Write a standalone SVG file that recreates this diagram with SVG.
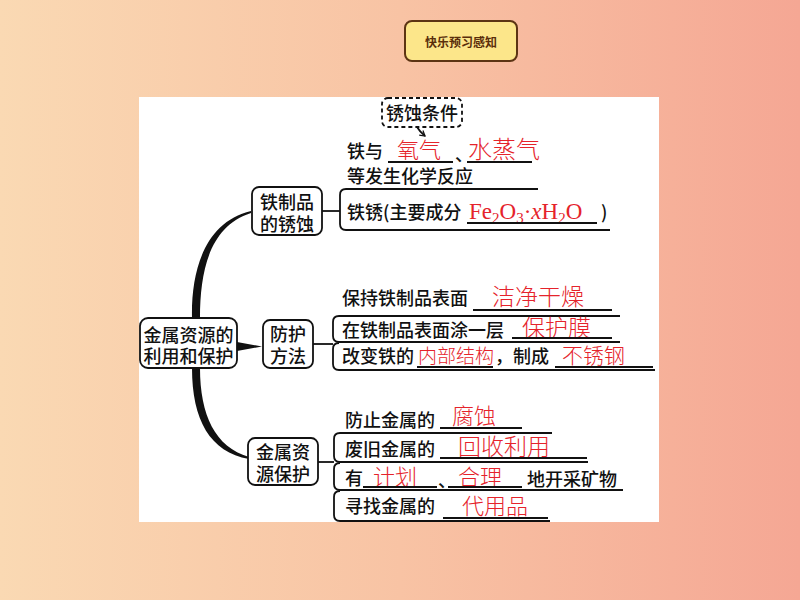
<svg xmlns="http://www.w3.org/2000/svg" width="800" height="600" viewBox="0 0 800 600">
<defs>
<linearGradient id="bg" x1="0" y1="0" x2="1" y2="0">
<stop offset="0" stop-color="#FAD9B3"/>
<stop offset="0.5" stop-color="#F8C3A4"/>
<stop offset="1" stop-color="#F5A794"/>
</linearGradient>
<marker id="ah" markerWidth="8" markerHeight="8" refX="6" refY="4" orient="auto" markerUnits="userSpaceOnUse">
<path d="M1,1 L6,4 L1,7" fill="none" stroke="#111" stroke-width="1.2"/>
</marker>
<style>
.k{font-family:"Noto Sans CJK SC","Noto Sans",sans-serif;font-size:18px;fill:#111;font-weight:500}
.r{font-family:"Noto Sans CJK SC","Noto Sans",sans-serif;fill:#E5232B;font-weight:300}
.f{font-family:"Liberation Serif",serif;fill:#E5232B}
.box{fill:#fff;stroke:#111;stroke-width:1.8}
.br{fill:none;stroke:#111;stroke-width:1.8}
.ul{fill:none;stroke:#111;stroke-width:2.2}
.c{fill:none;stroke:#111;stroke-width:1.8}
.mid{text-anchor:middle}
</style>
</defs>
<rect width="800" height="600" fill="url(#bg)"/>
<g id="title">
<rect x="405" y="21" width="112" height="40" rx="7" fill="#FCE68A" stroke="#5C3413" stroke-width="2"/>
<text x="461" y="47" text-anchor="middle" font-family="Noto Sans CJK SC, sans-serif" font-size="12" font-weight="700" fill="#5A2E0A">快乐预习感知</text>
</g>
<rect x="139" y="97" width="520" height="425" fill="#fff"/>

<g id="connectors">
<path d="M192,318 C191,270 205,222 251,211 L251,213 C210,226 200,270 200,318 Z" fill="#111"/>
<path d="M192,368 C192,420 210,452 249,459 L249,457 C215,447 200,415 200,368 Z" fill="#111"/>
<path d="M237,342 L262,346.5 L237,351 Z" fill="#111"/>
<line class="c" x1="322" y1="211" x2="340" y2="211"/>
<line class="c" x1="313" y1="344" x2="333" y2="344"/>
<line class="c" x1="318" y1="462" x2="334" y2="462"/>
<path d="M417,127 Q420,132 425,136" class="c" stroke-width="1.2" marker-end="url(#ah)"/>
</g>

<g id="root">
<rect class="box" x="140" y="318" width="97" height="50" rx="8"/>
<text class="k mid" x="188.5" y="342">金属资源的</text>
<text class="k mid" x="188.5" y="363">利用和保护</text>
</g>
<g id="node-rust">
<rect class="box" x="252" y="187" width="70" height="48" rx="7"/>
<text class="k mid" x="287" y="209">铁制品</text>
<text class="k mid" x="287" y="231">的锈蚀</text>
</g>
<g id="node-protect">
<rect class="box" x="263" y="320" width="50" height="48" rx="7"/>
<text class="k mid" x="288" y="341">防护</text>
<text class="k mid" x="288" y="363">方法</text>
</g>
<g id="node-resource">
<rect class="box" x="248" y="438" width="70" height="47" rx="7"/>
<text class="k mid" x="283" y="459">金属资</text>
<text class="k mid" x="283" y="481">源保护</text>
</g>
<g id="node-condition">
<rect x="382" y="98" width="80" height="29" rx="6" fill="#fff" stroke="#111" stroke-width="1.8" stroke-dasharray="4,3"/>
<text class="k mid" x="422" y="120">锈蚀条件</text>
</g>

<g id="branch-rust">
<text class="k" x="347" y="158">铁与</text>
<text class="r" x="397" y="158" font-size="22">氧气</text>
<line class="ul" x1="388" y1="162" x2="453" y2="162"/>
<text class="k" x="455" y="161" font-size="13">、</text>
<text class="r" x="468" y="158" font-size="24">水蒸气</text>
<line class="ul" x1="467" y1="162" x2="532" y2="162"/>
<text class="k" x="347" y="183">等发生化学反应</text>
<path class="br" d="M538,189 H346 Q340,189 340,195 V224 Q340,230 346,230 H610"/>
<text class="k" x="347" y="219">铁锈(主要成分</text>
<text class="f" x="469" y="219" font-size="23">Fe<tspan font-size="15" dy="4">2</tspan><tspan dy="-4">O</tspan><tspan font-size="15" dy="4">3</tspan><tspan dy="-4">·</tspan><tspan font-style="italic">x</tspan>H<tspan font-size="15" dy="4">2</tspan><tspan dy="-4">O</tspan></text>
<line class="ul" x1="467" y1="223" x2="597" y2="223"/>
<text class="k" x="601" y="219">)</text>
</g>

<g id="branch-protect">
<text class="k" x="342" y="305">保持铁制品表面</text>
<text class="r" x="492" y="305" font-size="23">洁净干燥</text>
<line class="ul" x1="473" y1="310" x2="612" y2="310"/>
<path class="br" d="M620,316 H339 Q333,316 333,322 V336 Q333,342 339,342 H620"/>
<text class="k" x="342" y="337">在铁制品表面涂一层</text>
<text class="r" x="522" y="336" font-size="23">保护膜</text>
<line class="ul" x1="512" y1="338" x2="612" y2="338"/>
<path class="br" d="M339,343 Q333,343 333,349 V364 Q333,370 339,370 H655"/>
<text class="k" x="342" y="363">改变铁的</text>
<text class="r" x="418" y="363" font-size="19">内部结构</text>
<line class="ul" x1="417" y1="367" x2="493" y2="367"/>
<text class="k" x="495" y="363">，制成</text>
<text class="r" x="562" y="363" font-size="21">不锈钢</text>
<line class="ul" x1="555" y1="367" x2="653" y2="367"/>
</g>

<g id="branch-resource">
<text class="k" x="345" y="427">防止金属的</text>
<text class="r" x="452" y="424" font-size="22">腐蚀</text>
<line class="ul" x1="440" y1="428" x2="522" y2="428"/>
<path class="br" d="M552,433 H340 Q334,433 334,439 V456 Q334,462 340,462 H588"/>
<text class="k" x="345" y="456">废旧金属的</text>
<text class="r" x="458" y="455" font-size="23">回收利用</text>
<line class="ul" x1="440" y1="458" x2="587" y2="458"/>
<path class="br" d="M340,463 Q334,463 334,469 V484 Q334,490 340,490 H623"/>
<text class="k" x="345" y="485">有</text>
<text class="r" x="373" y="485" font-size="22">计划</text>
<line class="ul" x1="363" y1="487" x2="437" y2="487"/>
<text class="k" x="438" y="487">、</text>
<text class="r" x="458" y="485" font-size="22">合理</text>
<line class="ul" x1="448" y1="487" x2="522" y2="487"/>
<text class="k" x="527" y="486">地开采矿物</text>
<path class="br" d="M340,491 Q334,491 334,497 V515 Q334,521 340,521 H550"/>
<text class="k" x="345" y="513">寻找金属的</text>
<text class="r" x="462" y="514" font-size="22">代用品</text>
<line class="ul" x1="443" y1="518" x2="548" y2="518"/>
</g>
</svg>
